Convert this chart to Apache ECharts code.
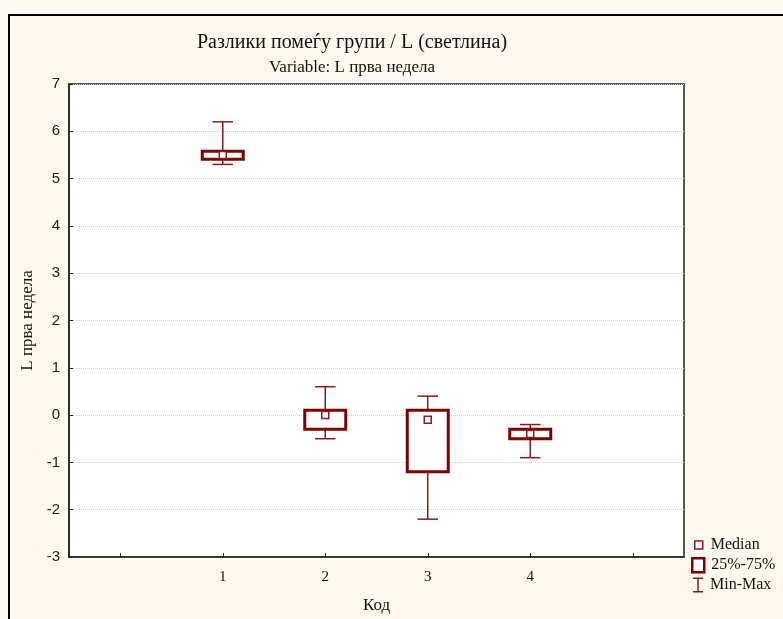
<!DOCTYPE html>
<html>
<head>
<meta charset="utf-8">
<script src="https://cdn.jsdelivr.net/npm/echarts@6/dist/echarts.min.js"></script>
<style>
  html, body { margin: 0; padding: 0; background: #fdf9ee; }
  #chart { width: 783px; height: 619px; }
</style>
</head>
<body>
<div id="chart"></div>
<script>
// Axis slots: an empty slot on each side of the four groups
const categories = ['', '1', '2', '3', '4', ' '];
const groups = ['1', '2', '3', '4'];

// Per-group box plot statistics (L прва недела)
const minVals    = [5.30, -0.50, -2.20, -0.90];
const q1Vals     = [5.41, -0.30, -1.20, -0.50];
const medianVals = [5.50,  0.00, -0.10, -0.40];
const q3Vals     = [5.58,  0.10,  0.10, -0.30];
const maxVals    = [6.20,  0.60,  0.40, -0.20];

const yTicks = { min: -3, max: 7, step: 1 };

const DARK_RED = '#800000';
const WHISKER_RED = '#8b1a1a';
const SERIF = '"Liberation Serif", "DejaVu Serif", serif';
const SANS = '"Liberation Sans", Arial, sans-serif';

const boxData = groups.map((g, i) => [g, q1Vals[i], q3Vals[i]]);
const whiskerData = groups.map((g, i) => [g, minVals[i], q1Vals[i], q3Vals[i], maxVals[i]]);
const medianData = groups.map((g, i) => [g, medianVals[i]]);

const legendText = { fontFamily: SERIF, fontSize: 16, color: '#111' };

const chart = echarts.init(document.getElementById('chart'));

chart.setOption({
  backgroundColor: '#fdf9ee',
  animation: false,
  title: [
    {
      text: 'Разлики помеѓу групи / L (светлина)',
      left: 347, top: 28, textAlign: 'center',
      textStyle: { fontFamily: SERIF, fontSize: 20, fontWeight: 'normal', color: '#111' }
    },
    {
      text: 'Variable: L прва недела',
      left: 347, top: 54, textAlign: 'center',
      textStyle: { fontFamily: SERIF, fontSize: 17, fontWeight: 'normal', color: '#111' }
    }
  ],
  graphic: [
    {
      type: 'rect', silent: true, z: -10,
      shape: { x: 9, y: 15, width: 800, height: 640 },
      style: { fill: 'none', stroke: '#000', lineWidth: 2 }
    }
  ],
  legend: [
    {
      data: [{ name: 'Median', icon: 'rect', itemStyle: { color: '#fff', borderColor: WHISKER_RED, borderWidth: 1.5 } }],
      left: 689, top: 532, itemWidth: 8, itemHeight: 8, selectedMode: false,
      textStyle: Object.assign({ padding: [0, 0, 0, 3] }, legendText)
    },
    {
      data: [{ name: '25%-75%', icon: 'rect', itemStyle: { color: '#fff', borderColor: DARK_RED, borderWidth: 2.5 } }],
      left: 686, top: 552, itemWidth: 12, itemHeight: 14, selectedMode: false,
      textStyle: Object.assign({ padding: [0, 0, 0, 2] }, legendText)
    },
    {
      data: [{
        name: 'Min-Max',
        icon: 'path://M0,0 H10 V1.5 H5.75 V13.5 H10 V15 H0 V13.5 H4.25 V1.5 H0 Z',
        itemStyle: { color: WHISKER_RED, borderWidth: 0 }
      }],
      left: 688, top: 572, itemWidth: 10, itemHeight: 15, selectedMode: false,
      textStyle: Object.assign({ padding: [0, 0, 0, 2] }, legendText)
    }
  ],
  grid: {
    left: 69, top: 84, right: 99, bottom: 59,
    show: true, backgroundColor: '#fff', borderColor: '#222', borderWidth: 1.5
  },
  xAxis: {
    type: 'category',
    data: categories,
    boundaryGap: true,
    name: 'Код',
    nameLocation: 'middle',
    nameGap: 40,
    nameTextStyle: { fontFamily: SERIF, fontSize: 17, color: '#111' },
    axisLine: { onZero: false, lineStyle: { color: '#222', width: 1.5 } },
    axisTick: { show: true, inside: true, length: 4, alignWithLabel: true, interval: 0, lineStyle: { color: '#222' } },
    axisLabel: { interval: 0, margin: 13, fontFamily: SERIF, fontSize: 15, color: '#111' },
    splitLine: { show: false }
  },
  yAxis: {
    type: 'value',
    min: yTicks.min, max: yTicks.max, interval: yTicks.step,
    name: 'L прва недела',
    nameLocation: 'middle',
    nameGap: 28,
    nameTextStyle: { fontFamily: SERIF, fontSize: 17, color: '#111' },
    axisLine: { show: true, onZero: false, lineStyle: { color: '#222', width: 1.5 } },
    axisTick: { show: true, inside: true, length: 4, lineStyle: { color: '#222' } },
    axisLabel: { margin: 9, fontFamily: SANS, fontSize: 15, color: '#222' },
    splitLine: { show: true, lineStyle: { color: '#cfcfcf', type: 'dotted', width: 1 } }
  },
  series: [
    {
      name: 'Min-Max',
      type: 'custom',
      data: whiskerData,
      encode: { x: 0, y: [1, 2, 3, 4] },
      z: 2,
      renderItem: function (params, api) {
        const idx = api.value(0);
        const pMin = api.coord([idx, api.value(1)]);
        const pQ1 = api.coord([idx, api.value(2)]);
        const pQ3 = api.coord([idx, api.value(3)]);
        const pMax = api.coord([idx, api.value(4)]);
        const capHalf = api.size([1, 0])[0] * 0.1;
        const style = { stroke: WHISKER_RED, lineWidth: 1.5 };
        const x = pMin[0];
        return {
          type: 'group',
          children: [
            { type: 'line', shape: { x1: x, y1: pMax[1], x2: x, y2: pQ3[1] }, style: style },
            { type: 'line', shape: { x1: x - capHalf, y1: pMax[1], x2: x + capHalf, y2: pMax[1] }, style: style },
            { type: 'line', shape: { x1: x, y1: pQ1[1], x2: x, y2: pMin[1] }, style: style },
            { type: 'line', shape: { x1: x - capHalf, y1: pMin[1], x2: x + capHalf, y2: pMin[1] }, style: style }
          ]
        };
      }
    },
    {
      name: '25%-75%',
      type: 'custom',
      data: boxData,
      encode: { x: 0, y: [1, 2] },
      z: 3,
      renderItem: function (params, api) {
        const idx = api.value(0);
        const pLow = api.coord([idx, api.value(1)]);
        const pHigh = api.coord([idx, api.value(2)]);
        const w = api.size([1, 0])[0] * 0.4;
        return {
          type: 'rect',
          shape: { x: pLow[0] - w / 2, y: pHigh[1], width: w, height: pLow[1] - pHigh[1] },
          style: { fill: '#fff', stroke: DARK_RED, lineWidth: 3 }
        };
      }
    },
    {
      name: 'Median',
      type: 'scatter',
      data: medianData,
      z: 4,
      symbol: 'rect',
      symbolSize: 7,
      itemStyle: { color: '#fff', borderColor: WHISKER_RED, borderWidth: 1.5, opacity: 1 }
    }
  ]
});
</script>
</body>
</html>
